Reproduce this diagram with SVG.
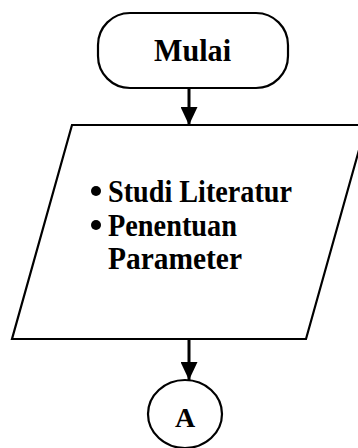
<svg xmlns="http://www.w3.org/2000/svg" width="358" height="448" viewBox="0 0 358 448">
  <defs>
    <style>
      .shape { fill: #ffffff; stroke: #000000; stroke-width: 2.2; }
      .conn { stroke: #000000; stroke-width: 3; fill: none; }
      .txt { font-family: "Liberation Serif", "Times New Roman", serif; font-weight: bold; fill: #000000; }
    </style>
    <marker id="arrow" viewBox="0 0 18 17" refX="18" refY="8.5" markerWidth="18" markerHeight="17" markerUnits="userSpaceOnUse" orient="auto">
      <path d="M0,0 L18,8.5 L0,17 Z" fill="#000000"/>
    </marker>
  </defs>
  <rect width="358" height="448" fill="#ffffff"/>
  <g id="connectors">
    <line class="conn" x1="189" y1="88" x2="189" y2="125" marker-end="url(#arrow)"/>
    <line class="conn" x1="189" y1="339" x2="189" y2="380" marker-end="url(#arrow)"/>
  </g>
  <g id="start">
    <rect class="shape" x="98" y="13" width="190" height="75" rx="32" ry="32"/>
    <text class="txt" x="154" y="61" font-size="32" textLength="77" lengthAdjust="spacingAndGlyphs">Mulai</text>
  </g>
  <g id="input">
    <polygon class="shape" points="72,125 366,125 306,339 12,339"/>
    <circle cx="96" cy="191" r="5" fill="#000000"/>
    <text class="txt" x="108" y="202" font-size="32" textLength="184" lengthAdjust="spacingAndGlyphs">Studi Literatur</text>
    <circle cx="96" cy="225" r="5" fill="#000000"/>
    <text class="txt" x="108" y="236" font-size="32" textLength="129" lengthAdjust="spacingAndGlyphs">Penentuan</text>
    <text class="txt" x="108" y="269" font-size="32" textLength="134" lengthAdjust="spacingAndGlyphs">Parameter</text>
  </g>
  <g id="connector-a">
    <ellipse class="shape" cx="185" cy="414" rx="37" ry="34"/>
    <text class="txt" x="185" y="427" font-size="28" text-anchor="middle">A</text>
  </g>
</svg>
